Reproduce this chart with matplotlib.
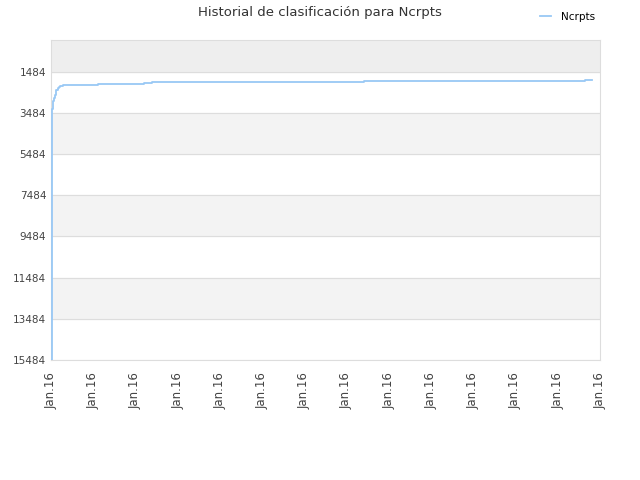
import matplotlib
matplotlib.use("Agg")
import matplotlib.pyplot as plt

# datos (x en dias desde el inicio, y = posicion)
dias = [0.0, 0.012, 0.035, 0.047, 0.06, 0.083, 0.107, 0.13, 0.154, 0.178,
        0.213, 0.284, 1.113, 2.2, 2.39, 7.41, 8.74, 12.65, 12.81]
posicion = [15484, 3484, 3300, 2900, 2750, 2600, 2480, 2380, 2290, 2230,
            2180, 2143, 2104, 2055, 2006, 1957, 1938, 1910, 1910]
ticks_y = [1484, 3484, 5484, 7484, 9484, 11484, 13484, 15484]
ticks_x = list(range(14))
etiquetas_x = ["Jan.16"] * len(ticks_x)

plt.rcParams["font.family"] = "DejaVu Sans"

fig = plt.figure(figsize=(6.4, 4.8), dpi=100)
ax = fig.add_axes([0.0797, 0.25, 0.8578, 0.6667])

y_top = -50
y_bottom = 15484

# bandas alternas
ax.axhspan(y_top, 1484, color="#eeeeee", zorder=0)
for lo in [3484, 7484, 11484]:
    ax.axhspan(lo, lo + 2000, color="#f3f3f3", zorder=0)

ax.plot(dias, posicion, color="#99c8f5", linewidth=1.3, drawstyle="steps-post",
        label="Ncrpts", zorder=3)

ax.set_ylim(y_bottom, y_top)
ax.set_xlim(0, 13)
ax.set_yticks(ticks_y)
ax.set_xticks(ticks_x)
ax.set_xticklabels(etiquetas_x, rotation=90)
ax.grid(axis="y", color="#dddddd", linewidth=0.8, zorder=1)
ax.tick_params(axis="y", length=0, labelsize=7.5, colors="#444444")
ax.tick_params(axis="x", length=0, labelsize=8.5, colors="#444444", pad=9)

for s in ax.spines.values():
    s.set_color("#dddddd")

fig.suptitle("Historial de clasificación para Ncrpts", x=0.5, y=0.988,
             fontsize=9.5, color="#333333")
fig.legend(loc="upper right", bbox_to_anchor=(0.945, 0.995), frameon=False,
           fontsize=7.5, handlelength=1.0, handletextpad=1.0)

fig.savefig("out.png", dpi=100)
